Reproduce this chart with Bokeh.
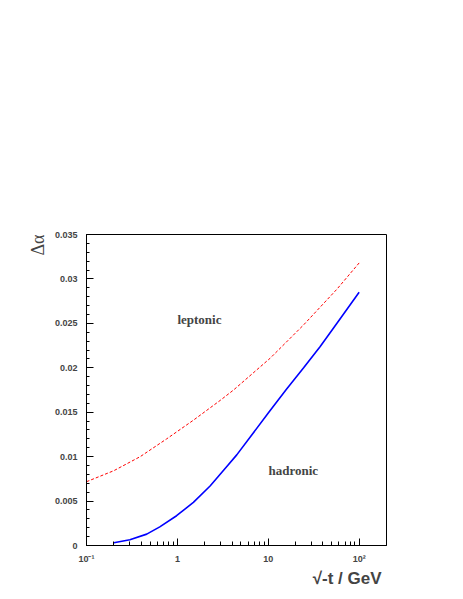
from bokeh.plotting import figure
from bokeh.models import (Range1d, FixedTicker, CustomJSTickFormatter, Label, LogTicker, Title)
from bokeh.embed import file_html
from bokeh.resources import INLINE

# ---- data ----
lep_x = [0.1, 0.2, 0.39, 0.76, 1.5, 2.95, 4.15, 10.5, 24.5, 57, 100]
lep_y = [0.00718, 0.00842, 0.0100, 0.01199, 0.0141, 0.01632, 0.0175,
         0.02108, 0.02483, 0.02885, 0.0318]

had_x = [0.2, 0.3, 0.46, 0.64, 0.98, 1.5, 2.29, 3.5, 4.5, 10, 15.7, 24.5, 37.3, 57, 100]
had_y = [0.0003, 0.00064, 0.00128, 0.0021, 0.00335, 0.00485, 0.0067, 0.0089,
         0.0102, 0.0149, 0.01752, 0.0200, 0.0224, 0.02502, 0.02851]

y_ticks = [0, 0.005, 0.01, 0.015, 0.02, 0.025, 0.03, 0.035]
x_tick_labels = {0.1: "10\u207b\u00b9", 1: "1", 10: "10", 100: "10\u00b2"}

p = figure(width=455, height=591, x_axis_type="log",
           x_range=Range1d(0.1, 200), y_range=Range1d(0, 0.035),
           output_backend="svg", toolbar_location=None,
           min_border_left=86, min_border_right=69,
           min_border_top=234, min_border_bottom=46)

p.grid.visible = False
p.outline_line_color = "black"
p.outline_line_width = 1
p.background_fill_color = "white"
p.border_fill_color = "white"

# y axis
ya = p.yaxis[0]
ya.ticker = FixedTicker(ticks=y_ticks,
                        minor_ticks=[i * 0.001 for i in range(36)])
ya.formatter = CustomJSTickFormatter(code="return String(parseFloat(tick.toFixed(3)));")
ya.major_tick_in = 7
ya.major_tick_out = 0
ya.minor_tick_in = 3
ya.minor_tick_out = 0
ya.major_label_text_font = "Liberation Sans"
ya.major_label_text_font_style = "bold"
ya.major_label_text_font_size = "9px"
ya.major_label_standoff = 9
ya.axis_line_color = "black"

# x axis
xa = p.xaxis[0]
xa.ticker = LogTicker(num_minor_ticks=10)
xa.major_label_overrides = x_tick_labels
xa.major_tick_in = 7
xa.major_tick_out = 0
xa.minor_tick_in = 4
xa.minor_tick_out = 0
xa.major_label_text_font = "Liberation Sans"
xa.major_label_text_font_style = "bold"
xa.major_label_text_font_size = "9px"
xa.major_label_standoff = 8
xa.axis_line_color = "black"

# curves
p.line(lep_x, lep_y, line_color="red", line_width=1, line_dash="3 2")
p.line(had_x, had_y, line_color="blue", line_width=1.6)

# text labels
p.add_layout(Label(x=1.0, y=0.0254, text="leptonic", text_font="Liberation Serif",
                   text_font_style="bold", text_font_size="13px",
                   text_baseline="middle", text_align="left"))
p.add_layout(Label(x=10.07, y=0.0084, text="hadronic", text_font="Liberation Serif",
                   text_font_style="bold", text_font_size="13px",
                   text_baseline="middle", text_align="left"))

# axis titles
p.add_layout(Title(text="\u221a-t / GeV", align="right", offset=5, standoff=0,
                   text_font="Liberation Sans", text_font_style="bold",
                   text_font_size="17px"), "below")
p.add_layout(Title(text="\u0394\u03b1", align="right", offset=0, standoff=8,
                   text_font="Liberation Serif", text_font_style="normal",
                   text_font_size="18px"), "left")

open("out.html", "w").write(file_html(p, INLINE))
